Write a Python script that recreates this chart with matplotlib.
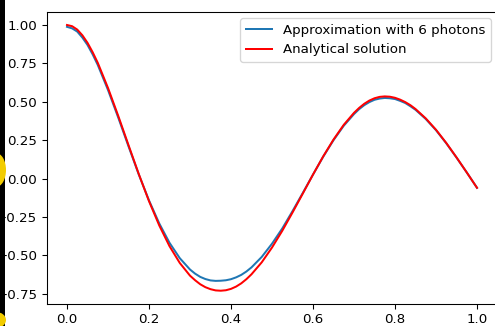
import matplotlib
matplotlib.use("Agg")
import matplotlib.pyplot as plt
from matplotlib.patches import Rectangle, Ellipse

# valeurs
t = [0.0, 0.0125, 0.025, 0.0375, 0.05, 0.0625, 0.075,
     0.1, 0.125, 0.15, 0.175, 0.2, 0.225, 0.25, 0.275, 0.3,
     0.3125, 0.325, 0.3375, 0.35, 0.3625, 0.375, 0.3875, 0.4, 0.4125, 0.425, 0.4375, 0.45,
     0.475, 0.5, 0.525, 0.55, 0.575, 0.6, 0.625, 0.65, 0.675, 0.7,
     0.7125, 0.725, 0.7375, 0.75, 0.7625, 0.775, 0.7875, 0.8, 0.8125, 0.825, 0.8375, 0.85,
     0.875, 0.9, 0.925, 0.95, 0.975, 1.0]

approx_6 = [0.988, 0.978, 0.957, 0.918, 0.870, 0.809, 0.740,
            0.577, 0.397, 0.210, 0.027, -0.142, -0.292, -0.418, -0.518, -0.592,
            -0.619, -0.640, -0.654, -0.663, -0.666, -0.665, -0.662, -0.655, -0.643, -0.627, -0.605, -0.578,
            -0.510, -0.424, -0.325, -0.212, -0.094, 0.026, 0.143, 0.250, 0.344, 0.420,
            0.452, 0.478, 0.498, 0.513, 0.521, 0.525, 0.523, 0.518, 0.506, 0.492, 0.471, 0.448,
            0.388, 0.315, 0.230, 0.137, 0.040, -0.060]

analytic = [1.000, 0.992, 0.970, 0.933, 0.884, 0.823, 0.754,
            0.590, 0.408, 0.218, 0.030, -0.147, -0.305, -0.440, -0.549, -0.632,
            -0.662, -0.688, -0.707, -0.720, -0.728, -0.730, -0.727, -0.718, -0.703, -0.682, -0.655, -0.623,
            -0.545, -0.449, -0.340, -0.221, -0.098, 0.026, 0.145, 0.254, 0.350, 0.428,
            0.460, 0.487, 0.508, 0.523, 0.532, 0.535, 0.533, 0.526, 0.514, 0.498, 0.478, 0.453,
            0.392, 0.318, 0.232, 0.138, 0.040, -0.060]

W, H = 495, 326
DPI = 96
fig = plt.figure(figsize=(W / DPI, H / DPI), dpi=DPI)
# la capture est rognée : le bord droit des axes sort de l'image
ax = fig.add_axes([46.5 / W, 22 / H, 451 / W, 292.3 / H])

ax.plot(t, approx_6, label='Approximation with 6 photons')
ax.plot(t, analytic, color='red', label='Analytical solution')
ax.set_yticks([1.0, 0.75, 0.5, 0.25, 0.0, -0.25, -0.5, -0.75])
ax.legend(loc='upper right')

# bande noire a gauche (fond de l'ecran dans la capture)
fig.patches.append(Rectangle((0, 0), 5 / W, 1, transform=fig.transFigure,
                             facecolor='black', edgecolor='none', zorder=5))
fig.patches.append(Ellipse((-4 / W, 1 - 170 / H), 20 / W, 34 / H, transform=fig.transFigure,
                           facecolor='#f2cc00', edgecolor='none', zorder=6))
fig.patches.append(Ellipse((-4 / W, 1 - 320 / H), 20 / W, 16 / H, transform=fig.transFigure,
                           facecolor='#f2cc00', edgecolor='none', zorder=6))

fig.savefig('out.png', dpi=DPI)
